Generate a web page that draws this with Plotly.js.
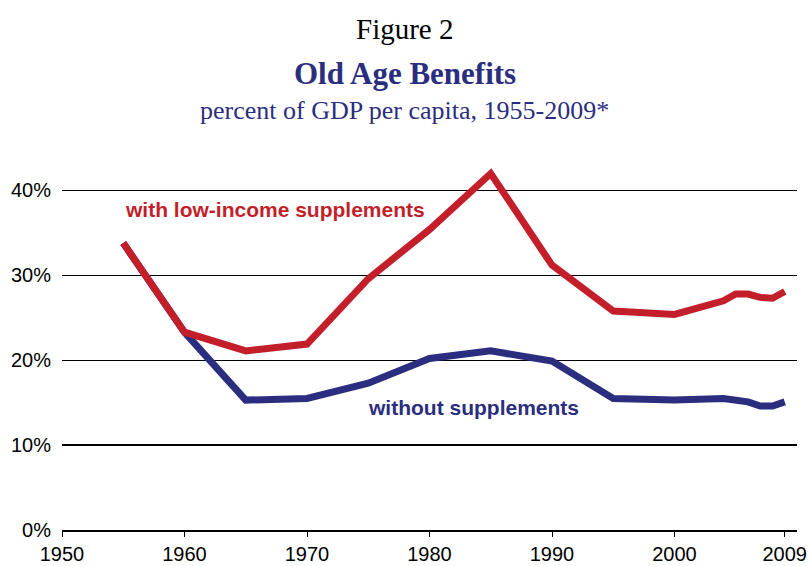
<!DOCTYPE html>
<html>
<head>
<meta charset="utf-8">
<script src="https://cdn.plot.ly/plotly-3.0.1.min.js"></script>
<style>
  html, body { margin: 0; padding: 0; background: #ffffff; }
  #chart { width: 809px; height: 566px; }
</style>
</head>
<body>
<div id="chart"></div>
<script>
// Old age benefits as a percent of GDP per capita
const years = [1955, 1960, 1965, 1970, 1975, 1980, 1985, 1990, 1995, 2000, 2004, 2005, 2006, 2007, 2008, 2009];
const withSupplements = [33.8, 23.3, 21.1, 21.9, 29.6, 35.4, 42.0, 31.2, 25.8, 25.4, 27.0, 27.8, 27.8, 27.4, 27.3, 28.1];
const withoutSupplements = [33.8, 23.3, 15.3, 15.5, 17.3, 20.2, 21.1, 19.9, 15.5, 15.3, 15.5, 15.4, 15.1, 14.6, 14.6, 15.1];

const xTickVals = [1950, 1960, 1970, 1980, 1990, 2000, 2009];
const xTickText = ['1950', '1960', '1970', '1980', '1990', '2000', '2009'];
const yTickVals = [0, 10, 20, 30, 40];
const yTickText = ['0%', '10%', '20%', '30%', '40%'];

const RED = '#c31f2b';
const NAVY = '#2b2e7e';
const SANS = 'Liberation Sans, Arial, sans-serif';
const SERIF = 'Liberation Serif, Times New Roman, serif';

const traces = [
  {
    x: years, y: withoutSupplements, type: 'scatter', mode: 'lines',
    line: { color: NAVY, width: 7, shape: 'linear' },
    hoverinfo: 'skip', showlegend: false
  },
  {
    x: years, y: withSupplements, type: 'scatter', mode: 'lines',
    line: { color: RED, width: 7, shape: 'linear' },
    hoverinfo: 'skip', showlegend: false
  }
];

const layout = {
  width: 809, height: 566,
  margin: { l: 62, r: 12, t: 148, b: 36, pad: 0 },
  paper_bgcolor: '#ffffff', plot_bgcolor: '#ffffff',
  showlegend: false,
  xaxis: {
    range: [1950, 2010], tickmode: 'array', tickvals: xTickVals, ticktext: xTickText,
    showgrid: false, zeroline: false,
    showline: true, linecolor: '#000000', linewidth: 1.5,
    ticks: 'outside', ticklen: 5, tickcolor: '#000000', tickwidth: 1,
    tickfont: { family: SANS, size: 20, color: '#000000' },
    fixedrange: true
  },
  yaxis: {
    range: [0, 45], tickmode: 'array', tickvals: yTickVals, ticktext: yTickText,
    showgrid: true, gridcolor: '#000000', gridwidth: 1.3,
    zeroline: false, showline: false,
    ticks: 'outside', ticklen: 6, tickcolor: 'rgba(0,0,0,0)',
    tickfont: { family: SANS, size: 20, color: '#000000' },
    fixedrange: true
  },
  annotations: [
    {
      text: 'Figure 2', xref: 'paper', yref: 'paper', x: 0.466, y: 1.311,
      showarrow: false, xanchor: 'center', yanchor: 'middle',
      font: { family: SERIF, size: 29, color: '#000000' }
    },
    {
      text: '<b>Old Age Benefits</b>', xref: 'paper', yref: 'paper', x: 0.466, y: 1.196,
      showarrow: false, xanchor: 'center', yanchor: 'middle',
      font: { family: SERIF, size: 31, color: NAVY }
    },
    {
      text: 'percent of GDP per capita, 1955-2009*', xref: 'paper', yref: 'paper', x: 0.466, y: 1.099,
      showarrow: false, xanchor: 'center', yanchor: 'middle',
      font: { family: SERIF, size: 26, color: NAVY }
    },
    {
      text: '<b>with low-income supplements</b>', x: 1967.4, y: 37.7, xref: 'x', yref: 'y',
      showarrow: false, xanchor: 'center', yanchor: 'middle',
      font: { family: SANS, size: 21, color: RED }
    },
    {
      text: '<b>without supplements</b>', x: 1983.6, y: 14.4, xref: 'x', yref: 'y',
      showarrow: false, xanchor: 'center', yanchor: 'middle',
      font: { family: SANS, size: 21, color: NAVY }
    }
  ]
};

Plotly.newPlot('chart', traces, layout, { displayModeBar: false, staticPlot: true });
</script>
</body>
</html>
